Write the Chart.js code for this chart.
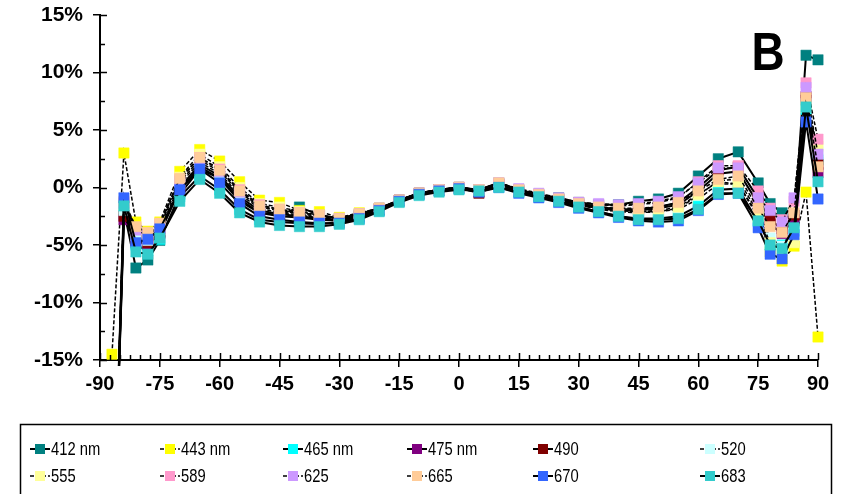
<!DOCTYPE html>
<html>
<head>
<meta charset="utf-8">
<script src="https://cdn.jsdelivr.net/npm/chart.js@4.4.1/dist/chart.umd.min.js"></script>
<style>
  html, body { margin: 0; padding: 0; background: #fff; }
  canvas { display: block; }
</style>
</head>
<body>
<canvas id="chart" width="846" height="494"></canvas>
<script>
// viewing angle (deg)
const angles = [-87, -84, -81, -78, -75, -70, -65, -60, -55, -50, -45, -40, -35, -30, -25, -20, -15, -10, -5, 0,
                5, 10, 15, 20, 25, 30, 35, 40, 45, 50, 55, 60, 65, 70, 75, 78, 81, 84, 87, 90];

const seriesNames = ['412 nm', '443 nm', '465 nm', '475 nm', '490', '520', '555', '589', '625', '665', '670', '683'];

// relative deviation (%) per band
const v412 = [-35, -2.0, -7.0, -6.3, -4.6, -0.6, 1.6, 0.8, -1.2, -2.2, -2.4, -1.7, -2.4, -2.7, -2.3, -1.8, -1.1, -0.5, -0.2, 0.0,
              -0.2, 0.4, -0.2, -0.6, -0.9, -1.3, -1.5, -1.5, -1.2, -1.0, -0.5, 1.0, 2.5, 3.1, 0.4, -1.4, -2.2, -3.0, 11.5, 11.1];
const v443 = [-14.5, 3.0, -3.0, -3.8, -3.0, 1.4, 3.3, 2.3, 0.5, -1.1, -1.3, -2.0, -2.1, -2.6, -2.2, -1.8, -1.1, -0.5, -0.2, 0.0,
              -0.2, 0.3, -0.3, -0.7, -1.1, -1.5, -1.8, -2.0, -2.1, -2.1, -1.9, -1.0, 0.3, 0.3, -2.6, -5.6, -6.4, -5.1, -0.4, -13.0];
const v465 = [-35, -1.7, -5.0, -5.5, -4.5, -0.8, 1.0, -0.2, -1.9, -2.8, -3.0, -3.1, -3.2, -3.0, -2.6, -2.0, -1.2, -0.6, -0.3, -0.1,
              -0.3, 0.1, -0.4, -0.8, -1.2, -1.7, -2.1, -2.5, -2.7, -2.7, -2.5, -1.6, -0.2, -0.1, -3.0, -5.0, -5.0, -3.8, 6.8, 2.4];
const v475 = [-35, -2.8, -4.6, -5.0, -4.0, -0.2, 1.8, 0.8, -1.0, -2.2, -2.5, -2.6, -2.8, -2.9, -2.5, -1.9, -1.1, -0.5, -0.2, 0.0,
              -0.4, 0.3, -0.3, -0.7, -1.1, -1.5, -1.8, -2.0, -2.0, -1.8, -1.5, -0.3, 1.2, 1.4, -1.4, -3.2, -4.0, -2.8, 7.6, 1.3];
const v490 = [-35, -2.5, -4.4, -4.8, -3.9, 0.0, 2.0, 1.0, -0.8, -2.0, -2.3, -2.5, -2.7, -2.8, -2.4, -1.9, -1.1, -0.5, -0.2, 0.0,
              -0.5, 0.3, -0.3, -0.7, -1.0, -1.4, -1.7, -1.9, -1.9, -1.7, -1.3, 0.0, 1.5, 1.8, -1.0, -2.8, -3.6, -2.4, 7.9, 2.0];
const v520 = [-35, -2.0, -4.2, -4.6, -3.7, 0.3, 2.2, 1.2, -0.6, -1.8, -2.2, -2.4, -2.6, -2.8, -2.4, -1.9, -1.1, -0.5, -0.2, 0.0,
              -0.3, 0.4, -0.3, -0.7, -1.1, -1.5, -1.9, -2.1, -2.2, -2.1, -1.8, -0.7, 0.6, 0.7, -2.2, -4.4, -5.1, -3.6, 7.3, 3.1];
const v555 = [-35, -1.5, -3.6, -4.2, -3.3, 0.9, 2.9, 1.8, 0.0, -1.4, -1.7, -2.1, -2.4, -2.7, -2.3, -1.8, -1.1, -0.5, -0.2, 0.0,
              -0.2, 0.4, -0.2, -0.6, -1.0, -1.4, -1.8, -2.0, -2.1, -2.0, -1.7, -0.6, 0.5, 0.3, -2.4, -4.8, -5.6, -4.8, 7.0, 3.6];
const v589 = [-35, -1.3, -3.5, -4.0, -3.2, 0.7, 2.6, 1.6, -0.2, -1.5, -1.9, -2.2, -2.4, -2.7, -2.3, -1.8, -1.1, -0.5, -0.2, 0.0,
              -0.2, 0.4, -0.2, -0.6, -1.0, -1.3, -1.5, -1.6, -1.5, -1.3, -0.9, 0.5, 1.9, 1.9, -0.3, -1.8, -2.8, -1.2, 9.1, 4.2];
const v625 = [-35, -1.4, -3.7, -4.2, -3.4, 0.5, 2.4, 1.4, -0.4, -1.7, -2.0, -2.3, -2.5, -2.7, -2.3, -1.8, -1.1, -0.5, -0.2, 0.0,
              -0.2, 0.4, -0.1, -0.5, -0.9, -1.3, -1.4, -1.5, -1.4, -1.2, -0.8, 0.4, 1.7, 1.7, -0.9, -2.0, -3.0, -0.9, 8.7, 2.9];
const v665 = [-35, -1.2, -3.4, -3.9, -3.1, 0.8, 2.6, 1.5, -0.3, -1.6, -1.9, -2.2, -2.4, -2.7, -2.3, -1.8, -1.1, -0.5, -0.2, 0.0,
              -0.2, 0.4, -0.2, -0.6, -1.0, -1.4, -1.7, -1.8, -1.8, -1.7, -1.3, -0.3, 0.7, 1.0, -1.8, -3.4, -3.9, -2.2, 7.8, 1.8];
const v670 = [-35, -0.9, -4.8, -4.5, -3.6, -0.2, 1.6, 0.4, -1.4, -2.5, -2.8, -3.0, -3.1, -3.1, -2.7, -2.0, -1.2, -0.6, -0.3, -0.1,
              -0.4, 0.0, -0.5, -0.9, -1.3, -1.8, -2.2, -2.6, -2.9, -3.0, -2.9, -2.0, -0.6, -0.5, -3.5, -5.8, -6.2, -4.1, 5.7, -1.0];
const v683 = [-35, -1.6, -5.6, -5.8, -4.4, -1.2, 0.7, -0.5, -2.2, -3.0, -3.3, -3.4, -3.4, -3.2, -2.8, -2.1, -1.3, -0.7, -0.4, -0.2,
              -0.3, 0.0, -0.4, -0.8, -1.2, -1.7, -2.1, -2.5, -2.8, -2.8, -2.7, -1.9, -0.5, -0.5, -2.9, -5.0, -5.3, -3.5, 7.0, 0.5];

const yTicks = [-15, -10, -5, 0, 5, 10, 15];
const xTicks = [-90, -75, -60, -45, -30, -15, 0, 15, 30, 45, 60, 75, 90];

const allValues = [v412, v443, v465, v475, v490, v520, v555, v589, v625, v665, v670, v683];
const markerColors = ['#008080', '#FFFF00', '#00FFFF', '#800080', '#800000', '#CCFFFF',
                      '#FFFF99', '#FF99CC', '#CC99FF', '#FFCC99', '#3366FF', '#33CCCC'];
const dashedLine = [false, true, false, false, false, true, true, true, true, true, false, false];

const FONT = "'Liberation Sans', Arial, sans-serif";

const datasets = allValues.map((vals, i) => ({
    label: seriesNames[i],
    data: vals.map((v, k) => ({ x: angles[k], y: v })),
    borderColor: '#000',
    borderWidth: dashedLine[i] ? 1.5 : 2,
    borderDash: dashedLine[i] ? [4, 2] : [],
    pointStyle: 'rect',
    pointRadius: 7.3,
    pointBackgroundColor: markerColors[i],
    pointBorderColor: markerColors[i],
    pointBorderWidth: 0.5,
    tension: 0,
    clip: { left: 8, right: 8, top: 8, bottom: 6 },
    order: allValues.length - i
}));

// inner ticks, minor ticks, panel letter and framed legend
const extras = {
    id: 'extras',
    afterDraw(chart) {
        const { ctx, chartArea: a, scales: { x, y } } = chart;
        ctx.save();
        ctx.strokeStyle = '#000';
        ctx.lineWidth = 1.5;
        for (let v = -90; v <= 90; v += 2.5) {
            const px = Math.round(x.getPixelForValue(v)) + 0.5;
            const len = xTicks.includes(v) ? 7 : 5;
            ctx.beginPath(); ctx.moveTo(px, a.bottom); ctx.lineTo(px, a.bottom - len); ctx.stroke();
        }
        for (let v = -15; v <= 15; v += 2.5) {
            const py = Math.round(y.getPixelForValue(v)) + 0.5;
            const len = yTicks.includes(v) ? 7 : 5;
            ctx.beginPath(); ctx.moveTo(a.left, py); ctx.lineTo(a.left + len, py); ctx.stroke();
        }

        // panel letter
        ctx.save();
        ctx.translate(768, 70);
        ctx.scale(0.85, 1);
        ctx.fillStyle = '#000';
        ctx.font = 'bold 54px ' + FONT;
        ctx.textAlign = 'center';
        ctx.textBaseline = 'alphabetic';
        ctx.fillText('B', 0, 0);
        ctx.restore();

        // legend box
        ctx.lineWidth = 1.5;
        ctx.strokeStyle = '#000';
        ctx.strokeRect(20.5, 424.5, 811, 80);
        const cols = [30, 160, 283, 407, 533, 700];
        const rows = [449, 476];
        ctx.font = '18px ' + FONT;
        ctx.textBaseline = 'middle';
        ctx.textAlign = 'left';
        chart.data.datasets.forEach((ds, i) => {
            const cx = cols[i % 6], cy = rows[Math.floor(i / 6)];
            ctx.save();
            ctx.strokeStyle = '#000';
            ctx.lineWidth = ds.borderWidth;
            ctx.setLineDash(ds.borderDash);
            ctx.beginPath(); ctx.moveTo(cx, cy); ctx.lineTo(cx + 20, cy); ctx.stroke();
            ctx.restore();
            ctx.fillStyle = ds.pointBackgroundColor;
            ctx.fillRect(cx + 5, cy - 5, 10, 10);
            ctx.fillStyle = '#000';
            ctx.save();
            ctx.translate(cx + 21, cy);
            ctx.scale(0.82, 1);
            ctx.fillText(ds.label, 0, 1);
            ctx.restore();
        });
        ctx.restore();
    }
};

new Chart(document.getElementById('chart'), {
    type: 'line',
    data: { datasets },
    options: {
        responsive: false,
        animation: false,
        devicePixelRatio: 1,
        layout: { padding: { top: 15, right: 28, bottom: 100, left: 0 } },
        plugins: { legend: { display: false }, tooltip: { enabled: false } },
        scales: {
            x: {
                type: 'linear',
                min: -90,
                max: 90,
                afterFit(scale) { scale.height = 34; },
                afterBuildTicks(scale) { scale.ticks = xTicks.map(v => ({ value: v })); },
                ticks: { color: '#000', font: { family: FONT, size: 20, weight: 'bold' }, padding: 5, maxRotation: 0, autoSkip: false },
                grid: { drawOnChartArea: false, drawTicks: true, tickLength: 7, color: '#000', lineWidth: 1.5 },
                border: { color: '#000', width: 2 }
            },
            y: {
                min: -15,
                max: 15,
                afterFit(scale) { scale.width = 100; scale.paddingTop = 0; scale.paddingBottom = 0; },
                afterBuildTicks(scale) { scale.ticks = yTicks.map(v => ({ value: v })); },
                ticks: { color: '#000', font: { family: FONT, size: 21, weight: 'bold' }, padding: 10, callback: v => v + '%' },
                grid: { drawOnChartArea: false, drawTicks: true, tickLength: 7, color: '#000', lineWidth: 1.5 },
                border: { color: '#000', width: 2 }
            }
        }
    },
    plugins: [extras]
});
</script>
</body>
</html>
